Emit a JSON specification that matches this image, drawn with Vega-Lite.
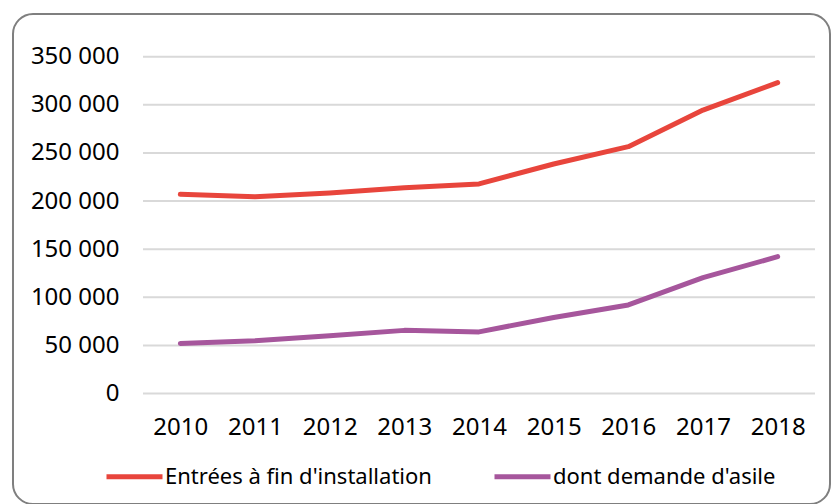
{
  "$schema": "https://vega.github.io/schema/vega-lite/v6.json",
  "width": 817,
  "height": 490,
  "autosize": {"type": "none"},
  "padding": {"left": 13, "top": 14, "right": 1, "bottom": 0},
  "background": "white",
  "config": {
    "font": "Noto Sans",
    "view": {"stroke": "#7f7f7f", "strokeWidth": 2, "cornerRadius": 20, "fill": "white"},
    "legend": {
      "orient": "none",
      "legendX": 91,
      "legendY": 432,
      "direction": "horizontal",
      "symbolType": "stroke",
      "symbolSize": 3136,
      "symbolStrokeWidth": 5,
      "labelFontSize": 22,
      "labelFont": "Noto Sans",
      "labelColor": "#000000",
      "labelOffset": 0,
      "columnPadding": 52,
      "labelLimit": 500
    }
  },
  "layer": [
    {
      "data": {"values": [{"v": 0}, {"v": 50000}, {"v": 100000}, {"v": 150000}, {"v": 200000}, {"v": 250000}, {"v": 300000}, {"v": 350000}]},
      "mark": {"type": "rule", "color": "#d9d9d9", "strokeWidth": 2},
      "encoding": {
        "y": {
          "field": "v", "type": "quantitative", "scale": {"domain": [-114832, 394374], "nice": false, "zero": false},
          "axis": {
            "orient": "left", "offset": -106, "values": [0, 50000, 100000, 150000, 200000, 250000, 300000, 350000],
            "labelExpr": "replace(format(datum.value, ',d'), ',', ' ')", "title": null, "domain": false, "ticks": false,
            "tickSize": 0, "grid": false, "labelPadding": 0, "labelFontSize": 24, "labelFont": "Noto Sans", "labelColor": "#000000"
          }
        },
        "x": {
          "datum": 2009.5, "type": "quantitative", "scale": {"domain": [2007.759, 2018.701], "nice": false, "zero": false},
          "axis": {
            "orient": "bottom", "offset": -89, "values": [2010, 2011, 2012, 2013, 2014, 2015, 2016, 2017, 2018],
            "format": "d", "title": null, "domain": false, "ticks": false, "tickSize": 0, "grid": false,
            "labelPadding": 0, "labelFontSize": 24, "labelFont": "Noto Sans", "labelColor": "#000000", "labelBaseline": "top"
          }
        },
        "x2": {"datum": 2018.5}
      }
    },
    {
      "data": {"values": [
        {"year": 2010, "v": 207000, "series": "Entrées à fin d'installation"},
        {"year": 2011, "v": 204500, "series": "Entrées à fin d'installation"},
        {"year": 2012, "v": 208300, "series": "Entrées à fin d'installation"},
        {"year": 2013, "v": 213800, "series": "Entrées à fin d'installation"},
        {"year": 2014, "v": 217800, "series": "Entrées à fin d'installation"},
        {"year": 2015, "v": 238500, "series": "Entrées à fin d'installation"},
        {"year": 2016, "v": 256500, "series": "Entrées à fin d'installation"},
        {"year": 2017, "v": 294500, "series": "Entrées à fin d'installation"},
        {"year": 2018, "v": 323000, "series": "Entrées à fin d'installation"},
        {"year": 2010, "v": 52000, "series": "dont demande d'asile"},
        {"year": 2011, "v": 54800, "series": "dont demande d'asile"},
        {"year": 2012, "v": 60000, "series": "dont demande d'asile"},
        {"year": 2013, "v": 65600, "series": "dont demande d'asile"},
        {"year": 2014, "v": 64000, "series": "dont demande d'asile"},
        {"year": 2015, "v": 79000, "series": "dont demande d'asile"},
        {"year": 2016, "v": 92000, "series": "dont demande d'asile"},
        {"year": 2017, "v": 120500, "series": "dont demande d'asile"},
        {"year": 2018, "v": 142200, "series": "dont demande d'asile"}
      ]},
      "mark": {"type": "line", "strokeWidth": 5, "strokeCap": "round", "strokeJoin": "round"},
      "encoding": {
        "x": {
          "field": "year", "type": "quantitative", "scale": {"domain": [2007.759, 2018.701], "nice": false, "zero": false},
          "axis": {
            "orient": "bottom", "offset": -89, "values": [2010, 2011, 2012, 2013, 2014, 2015, 2016, 2017, 2018],
            "format": "d", "title": null, "domain": false, "ticks": false, "tickSize": 0, "grid": false,
            "labelPadding": 0, "labelFontSize": 24, "labelFont": "Noto Sans", "labelColor": "#000000", "labelBaseline": "top"
          }
        },
        "y": {
          "field": "v", "type": "quantitative", "scale": {"domain": [-114832, 394374], "nice": false, "zero": false},
          "axis": {
            "orient": "left", "offset": -106, "values": [0, 50000, 100000, 150000, 200000, 250000, 300000, 350000],
            "labelExpr": "replace(format(datum.value, ',d'), ',', ' ')", "title": null, "domain": false, "ticks": false,
            "tickSize": 0, "grid": false, "labelPadding": 0, "labelFontSize": 24, "labelFont": "Noto Sans", "labelColor": "#000000"
          }
        },
        "color": {
          "field": "series", "type": "nominal",
          "scale": {"domain": ["Entrées à fin d'installation", "dont demande d'asile"], "range": ["#E8453C", "#A6569C"]},
          "legend": {"title": null}
        }
      }
    }
  ]
}
